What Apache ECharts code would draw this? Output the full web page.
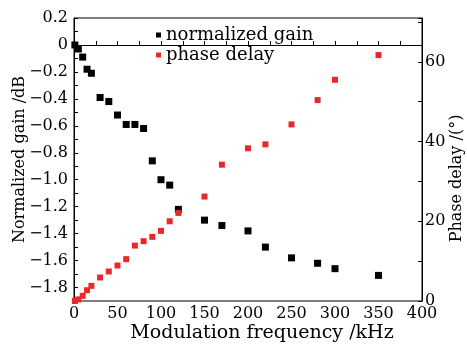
<!DOCTYPE html>
<html>
<head>
<meta charset="utf-8">
<script src="https://cdn.jsdelivr.net/npm/echarts@6/dist/echarts.min.js"></script>
<style>
  html, body { margin: 0; padding: 0; background: #fff; }
  #chart { width: 467px; height: 346px; }
</style>
</head>
<body>
<div id="chart"></div>
<script>
// measured points (kHz)
var gainFreq = [1, 5, 10, 15, 20, 30, 40, 50, 60, 70, 80, 90, 100, 110, 120, 150, 170, 200, 220, 250, 280, 300, 350];
var gainDb = [0, -0.03, -0.09, -0.18, -0.21, -0.39, -0.42, -0.52, -0.59, -0.59, -0.62, -0.86, -1.0, -1.04, -1.22, -1.30, -1.34, -1.38, -1.50, -1.58, -1.62, -1.66, -1.71];
var phaseFreq = [1, 5, 10, 15, 20, 30, 40, 50, 60, 70, 80, 90, 100, 110, 120, 150, 170, 200, 220, 250, 280, 300, 350];
var phaseDeg = [0, 0.4, 1.3, 2.7, 3.8, 5.9, 7.4, 8.9, 10.5, 13.9, 15.0, 16.1, 17.6, 20.0, 22.1, 26.2, 34.2, 38.3, 39.3, 44.3, 50.4, 55.5, 61.7];

var FONT = 'DejaVu Serif';

function pairs(xs, ys) {
  return xs.map(function (x, i) { return [x, ys[i]]; });
}

var chart = echarts.init(document.getElementById('chart'));
var option = {
  animation: false,
  textStyle: { fontFamily: FONT, color: '#000' },
  grid: {
    left: 74, right: 45, top: 18, bottom: 45,
    outerBoundsMode: 'none',
    containLabel: false,
    show: true, borderColor: '#000', borderWidth: 1
  },
  legend: {
    orient: 'vertical',
    left: 151,
    top: 21,
    itemGap: 2,
    itemWidth: 5,
    itemHeight: 5,
    icon: 'rect',
    textStyle: { fontFamily: FONT, fontSize: 18, color: '#000' },
    data: ['normalized gain', 'phase delay']
  },
  xAxis: {
    type: 'value',
    min: 0, max: 400, interval: 25,
    name: 'Modulation frequency /kHz',
    nameLocation: 'middle',
    nameGap: 23,
    nameMoveOverlap: false,
    nameTextStyle: { fontFamily: FONT, fontSize: 19, color: '#000', padding: [0, 0, 0, 28] },
    axisLine: { lineStyle: { color: '#000' } },
    axisTick: { inside: true, length: 4, lineStyle: { color: '#000' } },
    axisLabel: {
      fontFamily: FONT, fontSize: 16, color: '#000', margin: 5,
      formatter: function (v) { return v % 50 === 0 ? String(v) : ''; }
    },
    splitLine: { show: false }
  },
  yAxis: [{
    type: 'value',
    min: -1.9, max: 0.2, interval: 0.1,
    name: 'Normalized gain /dB',
    nameLocation: 'middle',
    nameGap: 46,
    nameMoveOverlap: false,
    nameTextStyle: { fontFamily: FONT, fontSize: 16, color: '#000' },
    axisLine: { show: true, lineStyle: { color: '#000' } },
    axisTick: { show: true, inside: true, length: 4, lineStyle: { color: '#000' } },
    axisLabel: {
      fontFamily: FONT, fontSize: 16, color: '#000', margin: 6,
      showMinLabel: true, showMaxLabel: true,
      formatter: function (v) {
        var k = Math.round(v * 10);
        if (k % 2 !== 0) return '';
        if (k === 0) return '0';
        return (k < 0 ? '\u2212' : '') + (Math.abs(k) / 10).toFixed(1);
      }
    },
    splitLine: { show: false }
  }, {
    type: 'value',
    min: 0, max: 71, interval: 10,
    name: 'Phase delay /(\u00b0)',
    nameLocation: 'middle',
    nameGap: 27,
    nameMoveOverlap: false,
    nameRotate: 90,
    nameTextStyle: { fontFamily: FONT, fontSize: 16, color: '#000', padding: [0, 38, 0, 0] },
    axisLine: { show: true, lineStyle: { color: '#000' } },
    axisTick: { show: true, inside: true, length: 4, lineStyle: { color: '#000' } },
    axisLabel: {
      fontFamily: FONT, fontSize: 16, color: '#000', margin: 3,
      formatter: function (v) { return v % 20 === 0 ? String(v) : ''; }
    },
    splitLine: { show: false }
  }],
  series: [{
    name: 'normalized gain',
    type: 'scatter',
    yAxisIndex: 0,
    symbol: 'rect',
    symbolSize: 7,
    itemStyle: { color: '#000', opacity: 1 },
    data: pairs(gainFreq, gainDb)
  }, {
    name: 'phase delay',
    type: 'scatter',
    yAxisIndex: 1,
    symbol: 'rect',
    symbolSize: 6,
    itemStyle: { color: '#e8282a', opacity: 1 },
    data: pairs(phaseFreq, phaseDeg)
  }]
};
chart.setOption(option);
</script>
</body>
</html>
